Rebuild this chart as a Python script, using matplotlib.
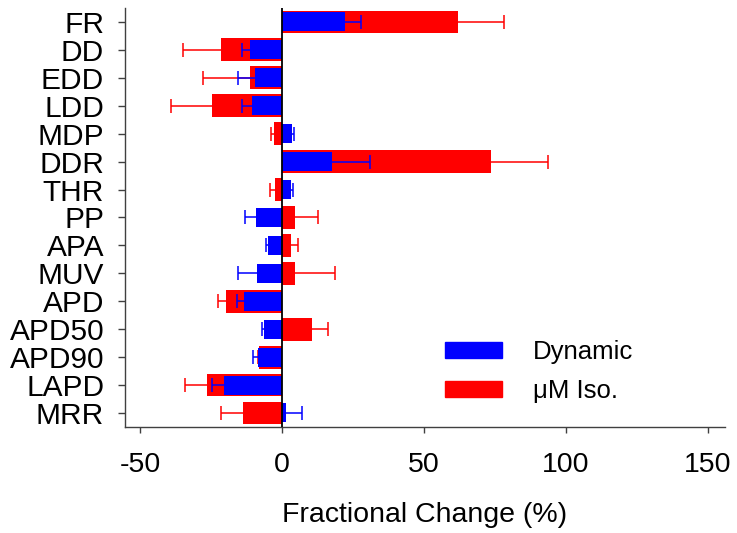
import numpy as np
import matplotlib
matplotlib.use('Agg')
import matplotlib.pyplot as plt
from matplotlib.patches import Patch

plt.rcParams['font.family'] = ['Liberation Sans', 'DejaVu Sans']

# categories, top to bottom
labels = ['FR', 'DD', 'EDD', 'LDD', 'MDP', 'DDR', 'THR', 'PP', 'APA', 'MUV',
          'APD', 'APD50', 'APD90', 'LAPD', 'MRR']

# fractional change (%) and error
dynamic = [22.2, -11.3, -9.5, -10.6, 3.5, 17.6, 3.2, -9.2, -4.9, -8.8,
           -13.4, -6.3, -8.4, -20.4, 1.4]
dynamic_err = [5.6, 2.8, 6.0, 3.5, 0.7, 13.4, 0.7, 3.9, 0.7, 6.7,
               2.4, 0.7, 1.8, 4.2, 5.6]
iso = [62.0, -21.4, -11.3, -24.6, -2.8, 73.6, -2.5, 4.6, 3.2, 4.6,
       -19.7, 10.6, -8.1, -26.4, -13.7]
iso_err = [16.0, 13.4, 16.5, 14.5, 1.1, 20.0, 1.7, 8.1, 2.4, 14.1,
           2.8, 5.6, 0.5, 7.8, 7.8]

xticks = [-50, 0, 50, 100, 150]

fig = plt.figure(figsize=(7.37, 5.33), dpi=100)
ax = fig.add_axes([0.1696, 0.199, 0.8141, 0.786])

y = np.arange(len(labels))


def one_sided(ax, vals, errs, color, z):
    # error bar only on the outer side of the bar
    vals = np.array(vals)
    errs = np.array(errs)
    lo = np.where(vals < 0, errs, 0)
    hi = np.where(vals >= 0, errs, 0)
    ax.errorbar(vals, y, xerr=[lo, hi], fmt='none', ecolor=color,
                elinewidth=1.1, capsize=0, zorder=z)
    ends = vals + np.sign(vals) * errs
    ax.plot(ends, y, linestyle='none', marker='|', markersize=9.5,
            mew=1.1, color=color, zorder=z)


ax.barh(y, iso, height=0.82, color='#ff0000', zorder=1)
one_sided(ax, iso, iso_err, '#ff0000', 1.5)
ax.barh(y, dynamic, height=0.68, color='#0000ff', zorder=2)
one_sided(ax, dynamic, dynamic_err, '#0000ff', 2.5)
ax.axvline(0, color='black', lw=1.3, zorder=4)

ax.set_xlim(-55.3, 156)
ax.set_ylim(len(labels) - 0.5, -0.5)
ax.set_yticks(y)
ax.set_yticklabels(labels)
ax.set_xticks(xticks)
ax.set_xticklabels([str(t) for t in xticks])

for s in ['top', 'right']:
    ax.spines[s].set_visible(False)
for s in ['left', 'bottom']:
    ax.spines[s].set_color('#404040')
    ax.spines[s].set_linewidth(1.0)

ax.tick_params(axis='y', direction='out', length=5, width=1, color='#404040',
               labelsize=21.5, pad=10)
ax.tick_params(axis='x', direction='out', length=4.5, width=1, color='#404040',
               labelsize=20.5, pad=13.5)
ax.set_xlabel('Fractional Change (%)', fontsize=20.5, labelpad=17)

handles = [Patch(color='#0000ff', label='Dynamic'),
           Patch(color='#ff0000', label='μM Iso.')]
ax.legend(handles=handles, loc='upper left', bbox_to_anchor=(0.573, 0.405),
          bbox_transform=fig.transFigure, frameon=False, fontsize=18.5,
          handlelength=2.2, handleheight=0.6, handletextpad=1.2,
          labelspacing=0.57)

fig.savefig('out.png', dpi=100)
